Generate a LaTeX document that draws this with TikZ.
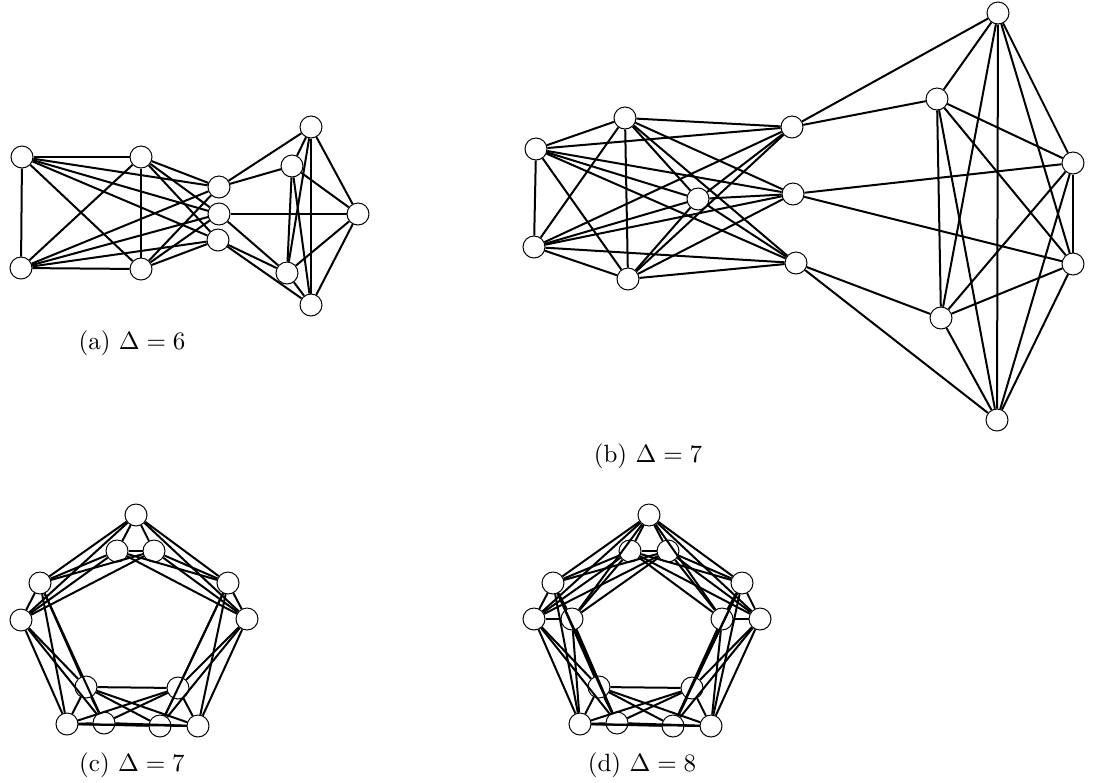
\documentclass[tikz,border=0pt]{standalone}
\tikzset{
  gvert/.style={draw, circle, fill=white, minimum size=8.8pt, inner sep=0pt, line width=0.4pt},
  gedge/.style={line width=0.8pt},
  glabel/.style={font=\normalsize, inner sep=0pt}
}

\begin{document}
\begin{tikzpicture}[x=0.4pt, y=-0.4pt]
\useasboundingbox (0,0) rectangle (1095,782);
% (a)
\node[gvert] (a1) at (22,157) {};
\node[gvert] (a2) at (21,268) {};
\node[gvert] (a3) at (141,157) {};
\node[gvert] (a4) at (141,269) {};
\node[gvert] (m1) at (219,187) {};
\node[gvert] (m2) at (219,214) {};
\node[gvert] (m3) at (218,240) {};
\node[gvert] (r1) at (311,127) {};
\node[gvert] (r2) at (292,166) {};
\node[gvert] (r3) at (358,214) {};
\node[gvert] (r4) at (287,273) {};
\node[gvert] (r5) at (311,305) {};
\foreach \u/\v in {a1/a2,a1/a3,a1/a4,a2/a3,a2/a4,a3/a4,
  m1/r1,m1/r2,m2/r3,m2/r4,m3/r4,m3/r5,
  r1/r2,r1/r3,r1/r4,r1/r5,r2/r3,r2/r4,r2/r5,r3/r4,r3/r5,r4/r5}
  \draw[gedge] (\u) -- (\v);
\foreach \u in {a1,a2,a3,a4}
  \foreach \v in {m1,m2,m3}
    \draw[gedge] (\u) -- (\v);
\node[glabel] (capa) at (132,343) {(a) $\Delta=6$};

% (b)
\node[gvert] (b1) at (536,149) {};
\node[gvert] (b2) at (625,118) {};
\node[gvert] (b3) at (534,247) {};
\node[gvert] (b4) at (628,279) {};
\node[gvert] (b5) at (698,199) {};
\node[gvert] (c1) at (792,127) {};
\node[gvert] (c2) at (793,194) {};
\node[gvert] (c3) at (796,263) {};
\node[gvert] (d1) at (998,13) {};
\node[gvert] (d2) at (937,99) {};
\node[gvert] (d3) at (1073,163) {};
\node[gvert] (d4) at (1073,264) {};
\node[gvert] (d5) at (941,318) {};
\node[gvert] (d6) at (997,420) {};
\foreach \u/\v in {b1/b2,b1/b3,b1/b4,b1/b5,b2/b3,b2/b4,b2/b5,b3/b4,b3/b5,b4/b5,
  c1/d1,c1/d2,c2/d3,c2/d4,c3/d5,c3/d6,
  d1/d2,d1/d3,d1/d4,d1/d5,d1/d6,d2/d3,d2/d4,d2/d5,d2/d6,
  d3/d4,d3/d5,d3/d6,d4/d5,d4/d6,d5/d6}
  \draw[gedge] (\u) -- (\v);
\foreach \u in {b1,b2,b3,b4,b5}
  \foreach \v in {c1,c2,c3}
    \draw[gedge] (\u) -- (\v);
\node[glabel] (capb) at (648,456) {(b) $\Delta=7$};

% (c)
\node[gvert] (cT1) at (136,515) {};
\node[gvert] (cT2) at (117,551) {};
\node[gvert] (cT3) at (154,551) {};
\node[gvert] (cL1) at (40,583) {};
\node[gvert] (cL2) at (21,620) {};
\node[gvert] (cR1) at (228,583) {};
\node[gvert] (cR2) at (247,619) {};
\node[gvert] (cP1) at (86,687) {};
\node[gvert] (cP2) at (67,724) {};
\node[gvert] (cP3) at (104,723) {};
\node[gvert] (cQ1) at (178,688) {};
\node[gvert] (cQ2) at (160,726) {};
\node[gvert] (cQ3) at (198,726) {};
\foreach \u/\v in {cT1/cT2,cT1/cT3,cT2/cT3,cL1/cL2,cR1/cR2,
  cP1/cP2,cP1/cP3,cP2/cP3,cQ1/cQ2,cQ1/cQ3,cQ2/cQ3}
  \draw[gedge] (\u) -- (\v);
\foreach \u in {cT1,cT2,cT3}
  \foreach \v in {cL1,cL2,cR1,cR2}
    \draw[gedge] (\u) -- (\v);
\foreach \u in {cL1,cL2}
  \foreach \v in {cP1,cP2,cP3}
    \draw[gedge] (\u) -- (\v);
\foreach \u in {cR1,cR2}
  \foreach \v in {cQ1,cQ2,cQ3}
    \draw[gedge] (\u) -- (\v);
\foreach \u in {cP1,cP2,cP3}
  \foreach \v in {cQ1,cQ2,cQ3}
    \draw[gedge] (\u) -- (\v);
\node[glabel] (capc) at (132,765) {(c) $\Delta=7$};

% (d)
\node[gvert] (dT1) at (649,515) {};
\node[gvert] (dT2) at (630,551) {};
\node[gvert] (dT3) at (668,551) {};
\node[gvert] (dL1) at (553,583) {};
\node[gvert] (dL2) at (534,619) {};
\node[gvert] (dL3) at (572,619) {};
\node[gvert] (dR1) at (742,583) {};
\node[gvert] (dR2) at (760,619) {};
\node[gvert] (dR3) at (722,619) {};
\node[gvert] (dP1) at (599,687) {};
\node[gvert] (dP2) at (580,724) {};
\node[gvert] (dP3) at (617,723) {};
\node[gvert] (dQ1) at (692,688) {};
\node[gvert] (dQ2) at (673,726) {};
\node[gvert] (dQ3) at (711,726) {};
\foreach \u/\v in {dT1/dT2,dT1/dT3,dT2/dT3,dL1/dL2,dL1/dL3,dL2/dL3,
  dR1/dR2,dR1/dR3,dR2/dR3,dP1/dP2,dP1/dP3,dP2/dP3,dQ1/dQ2,dQ1/dQ3,dQ2/dQ3}
  \draw[gedge] (\u) -- (\v);
\foreach \u in {dT1,dT2,dT3}
  \foreach \v in {dL1,dL2,dL3,dR1,dR2,dR3}
    \draw[gedge] (\u) -- (\v);
\foreach \u in {dL1,dL2,dL3}
  \foreach \v in {dP1,dP2,dP3}
    \draw[gedge] (\u) -- (\v);
\foreach \u in {dR1,dR2,dR3}
  \foreach \v in {dQ1,dQ2,dQ3}
    \draw[gedge] (\u) -- (\v);
\foreach \u in {dP1,dP2,dP3}
  \foreach \v in {dQ1,dQ2,dQ3}
    \draw[gedge] (\u) -- (\v);
\node[glabel] (capd) at (642,765) {(d) $\Delta=8$};
\end{tikzpicture}
\end{document}
